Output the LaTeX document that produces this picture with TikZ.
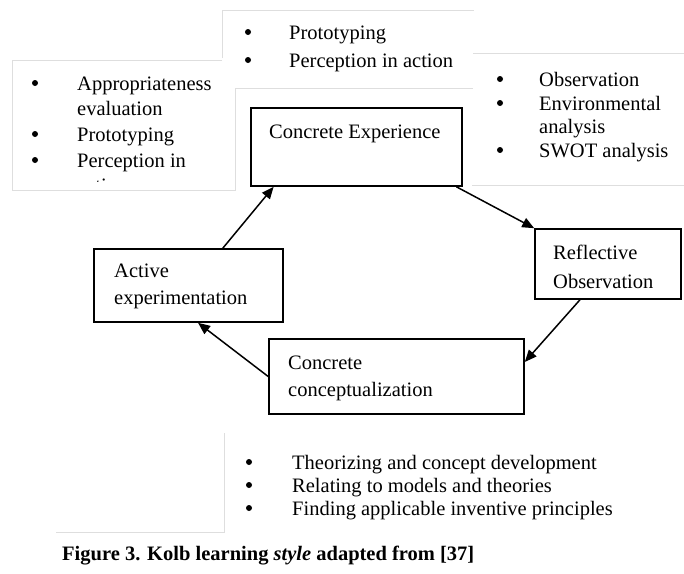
\documentclass[tikz,border=0pt]{standalone}
\usepackage{fontspec}
\setmainfont{Liberation Serif}
\usetikzlibrary{arrows.meta,calc}
\begin{document}
\begin{tikzpicture}[x=1pt,y=-1pt,
  stagebox/.style={draw=black,line width=1.6pt,inner sep=0pt,fill=white},
  txt/.style={anchor=base west,inner sep=0pt,font=\fontsize{20.5}{24}\selectfont},
  bul/.style={circle,fill=black,inner sep=0pt,minimum size=6pt},
  capt/.style={anchor=base west,inner sep=0pt,font=\fontsize{20.5}{24}\selectfont\bfseries},
  faint/.style={draw=black!13,line width=1pt},
  flow/.style={line width=1.5pt,-{Triangle[length=12pt,width=10pt]}}]
\fill[white] (0,0) rectangle (684,573);
\useasboundingbox (0,0) rectangle (684,573);

% faint text-box frames
\draw[faint] (222,58) -- (222,10) -- (474,10);
\draw[faint] (222,60) -- (12,60) -- (12,190) -- (235,190) -- (235,88) -- (473,88);
\draw[faint] (473,53) -- (684,53);
\draw[faint] (472,185) -- (684,185);
\draw[faint] (56,532) -- (224,532) -- (224,433);

% top list
\node[bul] (b1) at (248,32) {};
\node[txt] (t1) at (289,39) {Prototyping};
\node[bul] (b2) at (248,60) {};
\node[txt] (t2) at (289,67) {Perception in action};

% left list (clipped)
\begin{scope}
\clip (12,60) rectangle (235,181);
\node[bul] (l1) at (35,83) {};
\node[txt] (lt1) at (77,90) {Appropriateness};
\node[txt] (lt1b) at (77,115) {evaluation};
\node[bul] (l2) at (35,134) {};
\node[txt] (lt2) at (77,141) {Prototyping};
\node[bul] (l3) at (35,160) {};
\node[txt] (lt3) at (77,167) {Perception in};
\node[txt] (lt3b) at (77,192) {action};
\end{scope}

% right list
\node[bul] (r1) at (500,79) {};
\node[txt] (rt1) at (539,86) {Observation};
\node[bul] (r2) at (500,103) {};
\node[txt] (rt2) at (539,110) {Environmental};
\node[txt] (rt2b) at (539,133) {analysis};
\node[bul] (r3) at (500,150) {};
\node[txt] (rt3) at (539,157) {SWOT analysis};

% bottom list
\node[bul] (d1) at (249,462) {};
\node[txt] (dt1) at (292,469) {Theorizing and concept development};
\node[bul] (d2) at (249,485) {};
\node[txt] (dt2) at (292,492) {Relating to models and theories};
\node[bul] (d3) at (249,508) {};
\node[txt] (dt3) at (292,515) {Finding applicable inventive principles};

% stage boxes
\node[stagebox,minimum width=211pt,minimum height=78pt] (ce) at (356.5,147) {};
\node[stagebox,minimum width=146pt,minimum height=70pt] (ro) at (608,264) {};
\node[stagebox,minimum width=189pt,minimum height=73pt] (ae) at (188.5,285.5) {};
\node[stagebox,minimum width=255pt,minimum height=75pt] (cc) at (396.5,376.5) {};

\node[txt] (cet) at (269,138) {Concrete Experience};
\node[txt] (rot1) at (553,259) {Reflective};
\node[txt] (rot2) at (553,288) {Observation};
\node[txt] (aet1) at (114,277) {Active};
\node[txt] (aet2) at (114,304) {experimentation};
\node[txt] (cct1) at (288,369) {Concrete};
\node[txt] (cct2) at (288,396) {conceptualization};

% cycle arrows
\draw[flow] ($(ce.south west)!0.97!(ce.south east)$) -- (ro.north west);
\draw[flow] ($(ro.south west)!0.31!(ro.south east)$) -- ($(cc.north east)!0.31!(cc.south east)$);
\draw[flow] (cc.west) -- ($(ae.south west)!0.55!(ae.south east)$);
\draw[flow] ($(ae.north west)!0.68!(ae.north east)$) -- ($(ce.south west)!0.11!(ce.south east)$);

% caption
\node[capt] (cap) at (62,560) {Figure 3. Kolb learning \textit{style} adapted from [37]};
\end{tikzpicture}
\end{document}
